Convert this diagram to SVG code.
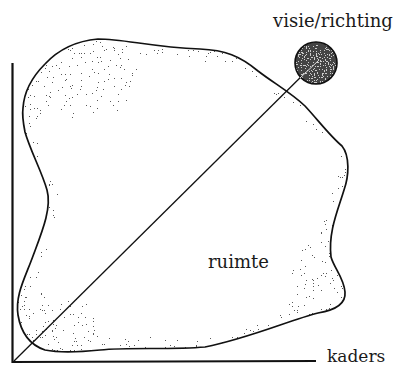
<svg xmlns="http://www.w3.org/2000/svg" width="399" height="366" viewBox="0 0 399 366">
<style>
.outline{fill:none;stroke:#111;stroke-width:1.7;stroke-linejoin:round}
.axis{stroke:#111;stroke-width:2.2;fill:none}
.diag{stroke:#111;stroke-width:1.3;fill:none}
.lbl{font-family:"DejaVu Serif","Liberation Serif",serif;fill:#1a1a1a}
</style>
<defs>
<path id="blob" d="M 23,108 C 24,92 33,76 45,64 C 58,50 75,41 98,39 C 125,39 150,47 200,49 C 225,50 240,56 258,71 C 275,84 290,92 305,106 C 318,120 330,136 342,146 C 350,156 349,176 344,190 C 338,210 328,232 331,257 C 334,268 344,278 345,292 C 346,303 336,310 318,313 C 290,320 250,338 205,347 C 170,350 130,347 100,350 C 80,352 60,353 45,350 C 30,345 21,333 18,315 C 15,295 25,278 33,256 C 42,232 52,208 47,190 C 42,172 30,150 25,132 C 23,122 22,115 23,108 Z"/>
<clipPath id="blobClip"><use href="#blob"/></clipPath>
<clipPath id="circClip"><circle cx="316" cy="63" r="21"/></clipPath>
<filter id="noise" filterUnits="userSpaceOnUse" x="0" y="0" width="399" height="366" color-interpolation-filters="sRGB">
<feTurbulence type="fractalNoise" baseFrequency="0.75" numOctaves="2" seed="7"/>
<feColorMatrix type="matrix" values="0 0 0 0 0  0 0 0 0 0  0 0 0 0 0  3 0 0 0 -1.25"/>
</filter>
<filter id="thr" filterUnits="userSpaceOnUse" x="0" y="0" width="399" height="366" color-interpolation-filters="sRGB">
<feComponentTransfer><feFuncA type="discrete" tableValues="0 0 0 0 0 0 0 0 0 0 0 0 0 1"/></feComponentTransfer>
<feColorMatrix type="matrix" values="0 0 0 0 0.35  0 0 0 0 0.35  0 0 0 0 0.35  0 0 0 1 0"/>
</filter>
<filter id="thrw" filterUnits="userSpaceOnUse" x="0" y="0" width="399" height="366" color-interpolation-filters="sRGB">
<feComponentTransfer><feFuncA type="discrete" tableValues="0 0 0 0 0 0 1 1 1 1"/></feComponentTransfer>
<feColorMatrix type="matrix" values="0 0 0 0 0.8  0 0 0 0 0.8  0 0 0 0 0.8  0 0 0 1 0"/>
</filter>
<filter id="soft" x="-50%" y="-50%" width="200%" height="200%"><feGaussianBlur stdDeviation="9"/></filter>
<mask id="dens" maskUnits="userSpaceOnUse" x="0" y="0" width="399" height="366">
<rect x="0" y="0" width="399" height="366" fill="#c8c8c8"/>
<g filter="url(#soft)">
<use href="#blob" fill="none" stroke="#fff" stroke-width="32"/>
<ellipse cx="85" cy="85" rx="60" ry="38" fill="#fff"/>
<ellipse cx="315" cy="280" rx="28" ry="42" fill="#fff"/>
<ellipse cx="60" cy="318" rx="42" ry="28" fill="#fff"/>
</g>
</mask>
</defs>
<rect width="399" height="366" fill="#fff"/>
<g id="ruimte">
<use href="#blob" fill="#fff"/>
<g filter="url(#thr)">
<g mask="url(#dens)" clip-path="url(#blobClip)">
<rect x="0" y="0" width="399" height="366" filter="url(#noise)"/>
</g>
</g>
<use href="#blob" class="outline"/>
<text class="lbl" x="208" y="268" font-size="18">ruimte</text>
</g>
<g id="connectors">
<path class="axis" d="M 12.5,63 L 12.5,362 L 316,361"/>
<path class="diag" d="M 14,361 L 316,62"/>
</g>
<g id="visie">
<circle cx="316" cy="63" r="21" fill="#444"/>
<g clip-path="url(#circClip)">
<g filter="url(#thrw)"><rect x="290" y="38" width="52" height="52" filter="url(#noise)"/></g>
</g>
<circle cx="316" cy="63" r="21" fill="none" stroke="#111" stroke-width="1.6"/>
<path d="M 300,78 L 318,61" stroke="#ddd" stroke-width="1"/>
<text class="lbl" x="273" y="27" font-size="18">visie/richting</text>
</g>
<g id="kaders">
<text class="lbl" x="327" y="362" font-size="17">kaders</text>
</g>
</svg>
